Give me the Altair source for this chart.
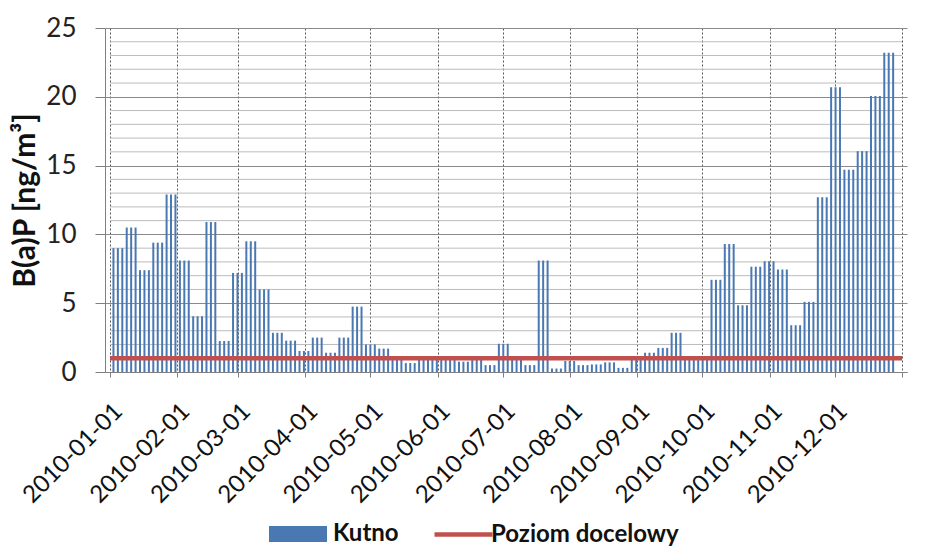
import altair as alt
import pandas as pd

# B(a)P values, one per sampling period (each period shown as 3 bars in the original)
group_values = [
    9.0, 10.5, 7.4, 9.4, 12.9, 8.1, 4.05, 10.9, 2.25, 7.2,
    9.5, 6.0, 2.85, 2.28, 1.53, 2.5, 1.4, 2.5, 4.75, 2.0,
    1.7, 1.0, 0.65, 0.95, 0.9, 1.0, 0.75, 1.0, 0.5, 2.05,
    1.0, 0.5, 8.1, 0.25, 0.8, 0.5, 0.55, 0.7, 0.3, 1.0,
    1.4, 1.75, 2.85, 1.0, 1.1, 6.7, 9.3, 4.85, 7.65, 8.05,
    7.45, 3.4, 5.1, 12.7, 20.7, 14.7, 16.05, 20.05, 23.2,
]
bars_per_group = 3
first_sample = "2010-01-02 14:00"
sample_step = "49h"

target_level = 1.0
series_bar = "Kutno"
series_line = "Poziom docelowy"
major_ticks = [0, 5, 10, 15, 20, 25]
minor_grid = [1, 2, 3, 4, 6, 7, 8, 9, 11, 12, 13, 14, 16, 17, 18, 19, 21, 22, 23, 24]
year_start = "2010-01-01T00:00:00"
year_end = "2011-01-01T00:00:00"
month_ticks = [alt.DateTime(year=2010, month=m, date=1) for m in range(1, 13)] + [
    alt.DateTime(year=2011, month=1, date=1)
]

dates = pd.date_range(first_sample, periods=len(group_values) * bars_per_group, freq=sample_step)
values = [v for v in group_values for _ in range(bars_per_group)]
bars_df = pd.DataFrame({"date": dates.strftime("%Y-%m-%dT%H:%M:%S"), "value": values, "sb": series_bar})
line_df = pd.DataFrame({"start": [year_start], "end": [year_end], "value": [target_level], "sl": [series_line]})
grid_df = pd.DataFrame({"start": year_start, "end": year_end, "g": minor_grid})

FONT = "Lato"

x_scale = alt.Scale(domain=[alt.DateTime(year=2010, month=1, date=1), alt.DateTime(year=2011, month=1, date=1)])
y_scale = alt.Scale(domain=[0, 25], nice=False)

x_axis = alt.Axis(
    values=month_ticks,
    labelExpr="year(datum.value) > 2010 ? '' : timeFormat(datum.value, '%Y-%m-%d')",
    labelAngle=-45,
    labelAlign="right",
    labelBaseline="top",
    labelFont=FONT,
    labelFontSize=24,
    labelColor="#111",
    labelPadding=22,
    labelOverlap=False,
    labelFlush=False,
    grid=True,
    gridDash=[2, 2],
    gridColor="#555",
    gridWidth=1,
    tickSize=5,
    tickColor="#808080",
    domainColor="#808080",
    title=None,
)

y_axis = alt.Axis(
    values=major_ticks,
    labelFont=FONT,
    labelFontSize=26,
    labelColor="#222",
    labelPadding=19,
    labelOverlap=False,
    gridColor="#8a8a8a",
    gridWidth=1,
    tickColor="#808080",
    tickSize=10,
    domainColor="#808080",
    title="B(a)P [ng/m³]",
    titleFont=FONT,
    titleFontSize=30,
    titleFontWeight="bold",
    titleColor="#111",
    titlePadding=5,
)

minor = alt.Chart(grid_df).mark_rule(color="#bcbcbc", strokeWidth=1).encode(
    x=alt.X("start:T", scale=x_scale, axis=x_axis),
    x2="end:T",
    y=alt.Y("g:Q", scale=y_scale, axis=y_axis),
)

bars = alt.Chart(bars_df).mark_bar(width=2).encode(
    x=alt.X("date:T"),
    y=alt.Y("value:Q"),
    fill=alt.Fill(
        "sb:N",
        scale=alt.Scale(domain=[series_bar], range=["#4a78b2"]),
        legend=alt.Legend(
            title=None,
            orient="none",
            legendX=181,
            legendY=494,
            symbolType="M-2.9,-0.8L2.9,-0.8L2.9,0.8L-2.9,0.8Z",
            symbolSize=400,
            symbolStrokeWidth=0,
            symbolOpacity=1,
            labelFont=FONT,
            labelFontSize=24,
            labelFontWeight="bold",
            labelColor="#111",
            labelOffset=23,
            labelLimit=400,
            padding=0,
        ),
    ),
)

rule = alt.Chart(line_df).mark_rule(strokeWidth=4.5).encode(
    x="start:T",
    x2="end:T",
    y="value:Q",
    stroke=alt.Stroke(
        "sl:N",
        scale=alt.Scale(domain=[series_line], range=["#C0504D"]),
        legend=alt.Legend(
            title=None,
            orient="none",
            legendX=346,
            legendY=494,
            symbolType="M-2.9,0L2.9,0",
            symbolSize=400,
            symbolStrokeWidth=4.5,
            symbolOpacity=1,
            labelFont=FONT,
            labelFontSize=24,
            labelFontWeight="bold",
            labelColor="#111",
            labelOffset=15,
            labelLimit=400,
            padding=0,
        ),
    ),
)

chart = (
    alt.layer(minor, bars, rule)
    .properties(width=802, height=344, padding={"left": 2, "top": 7, "right": 0, "bottom": 0})
    .configure_view(stroke=None)
)

chart.save("out.html", embed_options={"renderer": "svg", "actions": False})
